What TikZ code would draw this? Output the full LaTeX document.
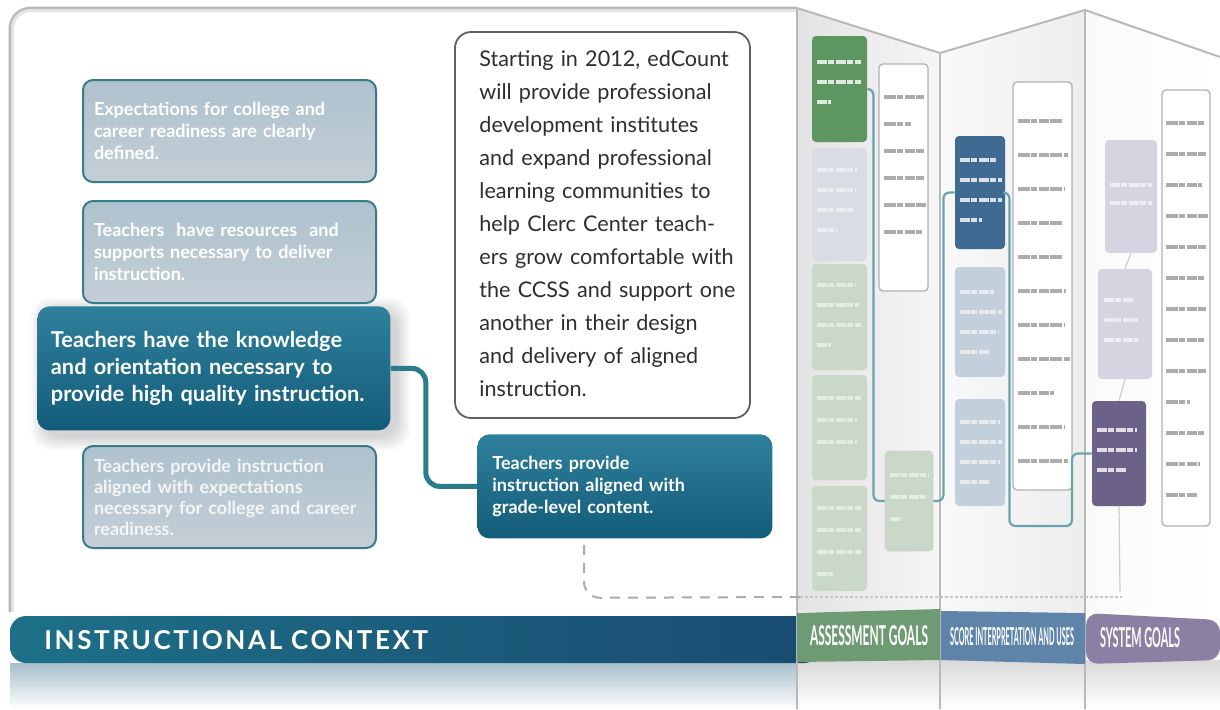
\documentclass[tikz,border=0pt]{standalone}
\usepackage{fontspec}
\setmainfont{Lato}
\usetikzlibrary{calc}

\definecolor{tealtop}{HTML}{2F809C}
\definecolor{tealbot}{HTML}{135C79}
\definecolor{goaltop}{HTML}{AEC2CE}
\definecolor{goalbot}{HTML}{C4CED6}
\definecolor{goalrim}{HTML}{3A7B8A}
\definecolor{linkteal}{HTML}{2A7B8B}
\definecolor{bandleft}{HTML}{1D7088}
\definecolor{bandright}{HTML}{1A4B71}
\definecolor{reflect}{HTML}{A8BFCC}
\definecolor{notegray}{HTML}{2E2E2E}
\definecolor{assessgreen}{HTML}{6F9B74}
\definecolor{scoreblue}{HTML}{5E84AA}
\definecolor{systempurple}{HTML}{8A80A3}
\definecolor{darkgreen}{HTML}{5E9662}
\definecolor{palegreen}{HTML}{C9D8C9}
\definecolor{palelilac}{HTML}{DADCE4}
\definecolor{darkblue}{HTML}{3F6A92}
\definecolor{paleblue}{HTML}{C3CFDB}
\definecolor{darkpurple}{HTML}{6C6289}
\definecolor{palepurple}{HTML}{D5D4E0}

\def\textmarks[#1](#2,#3:#4)#5{\foreach \w [count=\k] in {#5} \draw[#1] (#2,{#3+(\k-1)*#4}) -- ++(\w,0);}
\def\foldbox[#1](#2)(#3,#4)(#5,#6){\node[foldnode,#1,minimum width={(#5-#3)*0.5pt},minimum height={(#6-#4)*0.5pt}] (#2) at ({(#3+#5)/2},{(#4+#6)/2}) {};}

\tikzset{
	goalbox/.style={draw=goalrim, line width=1pt, rounded corners=5pt, top color=goaltop, bottom color=goalbot, text=white, align=left, anchor=north west, inner xsep=5.5pt, text width=135.5pt, minimum height=51pt, font=\bfseries\fontsize{9}{11}\selectfont},
	keybox/.style={rounded corners=6pt, top color=tealtop, bottom color=tealbot, text=white, align=left, anchor=north west},
	noteframe/.style={draw=gray!75!black, line width=0.9pt, rounded corners=8pt, fill=white},
	notetext/.style={text=notegray, align=left, anchor=west, inner sep=0pt, text width=134pt, font=\fontsize{10.8}{16.5}\selectfont},
	link/.style={draw=linkteal, line width=2.5pt, rounded corners=7pt},
	dashlink/.style={draw=gray!65, line width=1pt, dash pattern=on 5pt off 4pt, rounded corners=8pt},
	foldnode/.style={rectangle, rounded corners=2pt, inner sep=0pt},
	foldlink/.style={draw=linkteal!70, line width=1.1pt, rounded corners=3pt},
	foldedge/.style={draw=gray!55, line width=1pt},
	scrawl/.style={draw=gray!65, line width=2.2pt, dash pattern=on 6pt off 0.7pt on 3pt off 0.7pt on 5pt off 0.7pt},
	whitescrawl/.style={draw=white, line width=2pt, opacity=0.8, dash pattern=on 5pt off 0.7pt on 3pt off 0.7pt},
	bandlabel/.style={text=white, inner sep=0pt}
}

\begin{document}
\begin{tikzpicture}[x=0.5pt, y=-0.5pt]
	%%%%% START %%%%%
	\useasboundingbox (0,0) rectangle (1220,709);
	\fill[white] (0,0) rectangle (1220,709);

	% reflections under the bands
	\shade[top color=gray!30, bottom color=white] (797,660) rectangle (1220,709);
	\shade[top color=reflect, bottom color=white] (10,663) rectangle (797,709);

	% main panel
	\draw[gray!20, line width=3pt, rounded corners=10pt] (11,612) -- (11,9) -- (797,9);
	\draw[gray!55, line width=1pt, rounded corners=10pt] (10,612) -- (10,8) -- (797,8);
	\shade[left color=bandleft, right color=bandright, rounded corners=8pt] (10,616) rectangle (820,663);
	\node[bandlabel, anchor=west, font=\bfseries\fontsize{13}{14}\selectfont\addfontfeatures{LetterSpace=10}] (context) at (44,640) {INSTRUCTIONAL CONTEXT};

	% folding panels
	\shade[left color=gray!22, right color=gray!7] (797,8) -- (940,53) -- (940,612) -- (797,612) -- cycle;
	\shade[left color=gray!5, right color=gray!14] (940,53) -- (1085,10) -- (1085,612) -- (940,612) -- cycle;
	\shade[left color=gray!4, right color=white] (1085,10) -- (1220,57) -- (1220,612) -- (1085,612) -- cycle;
	\draw[foldedge] (797,8) -- (940,53) -- (1085,10) -- (1220,57);
	\draw[foldedge] (797,8) -- (797,709);
	\draw[foldedge] (940,53) -- (940,709);
	\draw[foldedge] (1085,10) -- (1085,709);

	\fill[assessgreen] (797,613) -- (940,609) -- (940,660) -- (797,662) -- cycle;
	\fill[scoreblue] (941,611) -- (1085,613) -- (1085,664) -- (941,660) -- cycle;
	\fill[systempurple, rounded corners=6pt] (1086,613) -- (1220,620) -- (1220,660) -- (1086,664) -- cycle;
	\node[bandlabel] (assesslabel) at (869,636) {\resizebox{59pt}{10pt}{\bfseries ASSESSMENT GOALS}};
	\node[bandlabel] (scorelabel) at (1012,637) {\resizebox{62pt}{9pt}{\bfseries SCORE INTERPRETATION AND USES}};
	\node[bandlabel] (systemlabel) at (1140,638) {\resizebox{40pt}{10pt}{\bfseries SYSTEM GOALS}};

	% assessment goals panel
	\foldbox[fill=darkgreen](aone)(812,36)(867,142)
	\foldbox[fill=palelilac](atwo)(812,148)(867,261)
	\foldbox[fill=palegreen](athree)(812,264)(867,370)
	\foldbox[fill=palegreen](afour)(812,375)(867,480)
	\foldbox[fill=palegreen](afive)(812,486)(867,591)
	\foldbox[fill=white, draw=gray!60, line width=0.7pt](atext)(879,64)(928,291)
	\foldbox[fill=palegreen, draw=gray!35](asmall)(885,451)(933,551)
	\textmarks[whitescrawl](817,62:20){44,44,14}
	\textmarks[whitescrawl, opacity=0.5](817,170:20){40,38,36,20}
	\textmarks[whitescrawl, opacity=0.5](817,285:20){38,42,44,14}
	\textmarks[whitescrawl, opacity=0.5](817,398:22){44,40,40}
	\textmarks[whitescrawl, opacity=0.5](817,508:22){44,44,44,16}
	\textmarks[whitescrawl, opacity=0.5](890,475:22){38,36,12}
	\textmarks[scrawl](884,97:27){40,27,40,40,42,38}

	% score interpretation panel
	\foldbox[fill=darkblue](bone)(955,136)(1005,249)
	\foldbox[fill=paleblue](btwo)(955,267)(1005,377)
	\foldbox[fill=paleblue](bthree)(955,399)(1005,506)
	\foldbox[fill=white, draw=gray!60, line width=0.7pt](btext)(1013,82)(1072,490)
	\textmarks[whitescrawl](960,160:20){36,42,42,22}
	\textmarks[whitescrawl, opacity=0.6](960,292:20){34,42,38,30}
	\textmarks[whitescrawl, opacity=0.6](960,422:20){40,42,40,30}
	\textmarks[scrawl](1018,121:34){44,50,46,44,44,48,46,52,36,46,50}

	% system goals panel
	\foldbox[fill=palepurple](cone)(1105,140)(1157,253)
	\foldbox[fill=palepurple](ctwo)(1098,269)(1152,379)
	\foldbox[fill=darkpurple](cthree)(1092,401)(1146,506)
	\foldbox[fill=white, draw=gray!60, line width=0.7pt](ctext)(1162,90)(1210,526)
	\textmarks[whitescrawl, opacity=0.6](1110,185:18){42,42}
	\textmarks[whitescrawl, opacity=0.6](1104,300:20){30,34,34}
	\textmarks[whitescrawl](1097,430:20){40,40,30}
	\textmarks[scrawl](1166,123:31){38,40,36,42,40,38,40,38,40,24,38,34,32}

	% panel connectors
	\coordinate (blow) at (1072,526);
	\coordinate (cend) at (1120,592);
	\draw[foldlink] (aone.east) -- ++(6,0) |- (asmall.west);
	\draw[foldlink] (asmall.east) -- ++(10,0) |- (bone.west);
	\draw[foldlink] (bone.east) -- ++(4,0) |- (blow) |- (cthree.west);
	\draw[gray!40, line width=0.6pt] (cone.south) -- (ctwo.north);
	\draw[gray!40, line width=0.6pt] (ctwo.south) -- (cthree.north);
	\draw[gray!40, line width=0.6pt] (cthree.south) -- (cend);

	% instructional context boxes
	\foreach \s in {2,4,...,14}
		\fill[black, opacity=0.025, rounded corners=10pt] ({45-\s},{312-\s}) rectangle ({396+\s},{436+\s});
	\node[goalbox] (expect) at (82,79) {Expectations for college and\\career readiness are clearly\\defined.};
	\node[goalbox] (resources) at (82,200) {Teachers\ \ have resources\ \ and\\supports necessary to deliver\\instruction.};
	\node[keybox, inner xsep=6.75pt, text width=163pt, minimum height=62pt, font=\bfseries\fontsize{10.9}{13.6}\selectfont] (knowledge) at (37,306) {Teachers have the knowledge\\and orientation necessary to\\provide high quality instruction.};
	\node[goalbox, font=\bfseries\fontsize{9}{10.5}\selectfont, text=white!85!goaltop] (aligned) at (82,445) {Teachers provide instruction\\aligned with expectations\\necessary for college and career\\readiness.};

	\draw[noteframe] (455,32) rectangle (750,418);
	\node[notetext] (edcount) at (479,224) {Starting in 2012, edCount\\will provide professional\\development institutes\\and expand professional\\learning communities to\\help Clerc Center teach-\\ers grow comfortable with\\the CCSS and support one\\another in their design\\and delivery of aligned\\instruction.};

	\node[keybox, inner xsep=7.5pt, text width=132.5pt, minimum height=52pt, font=\bfseries\fontsize{9}{10.8}\selectfont] (gradelevel) at (477,434) {Teachers provide\\instruction aligned with\\grade-level content.};

	\draw[link] (knowledge.east) -- ++(35,0) |- (gradelevel.west);

	\coordinate (dashend) at (800,597);
	\coordinate (dotend) at (1122,597);
	\draw[dashlink] (gradelevel.south west) ++(107,6) -- ++(0,53) -- (dashend);
	\draw[gray!45, line width=0.8pt, dash pattern=on 1.5pt off 1pt] (dashend) -- (dotend);
	%%%%% END %%%%%
\end{tikzpicture}
\end{document}
